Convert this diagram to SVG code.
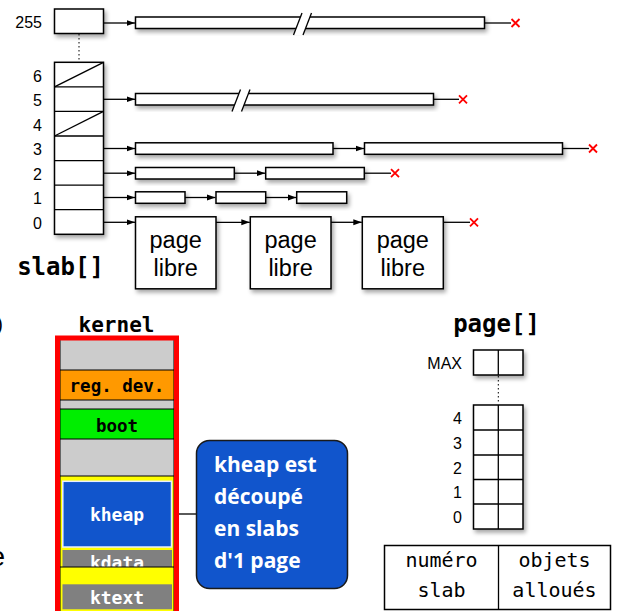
<svg xmlns="http://www.w3.org/2000/svg" width="617" height="611" viewBox="0 0 617 611">
<style>
.lbl{font-family:"Liberation Sans",Arial,sans-serif;font-size:16px;fill:#000;text-anchor:end}
.box{fill:#fff;stroke:#000;stroke-width:1.5}
.bar{fill:#fff;stroke:#000;stroke-width:1.5}
.ln{stroke:#000;stroke-width:1.3;fill:none}
.ar{stroke:#000;stroke-width:1.3;fill:none;marker-end:url(#ah)}
.rx{stroke:#ff0000;stroke-width:1.8;fill:none}
.pg{font-family:"Liberation Sans",Arial,sans-serif;font-size:23.5px;fill:#000;text-anchor:middle}
.mono{font-family:"DejaVu Sans Mono","Liberation Mono",monospace;text-anchor:middle}
.mb{font-family:"DejaVu Sans Mono","Liberation Mono",monospace;font-weight:bold;text-anchor:middle}
.sec{stroke:#000;stroke-width:1}
.call{font-family:"Open Sans","Noto Sans",sans-serif;font-weight:bold;font-size:21px;fill:#fff}
</style>
<defs>
<marker id="ah" markerWidth="9" markerHeight="7" refX="8.5" refY="3.5" orient="auto" markerUnits="userSpaceOnUse">
<path d="M0,0.5 L8.5,3.5 L0,6.5 z" fill="#000"/>
</marker>
<filter id="sh" x="-10%" y="-40%" width="125%" height="200%">
<feDropShadow dx="2" dy="3" stdDeviation="2" flood-color="#000" flood-opacity="0.35"/>
</filter>
</defs>

<!-- left edge fragments -->
<text x="3" y="331" class="lbl" style="font-size:20px">)</text>
<text x="5" y="566" class="lbl" style="font-size:28px">e</text>

<!-- slab[] array -->
<g id="slab-array">
<rect x="54.5" y="9" width="49" height="24.5" class="box" filter="url(#sh)"/>
<line x1="79" y1="34" x2="79" y2="61" stroke="#000" stroke-width="1" stroke-dasharray="1.5 2.5"/>
<rect x="54.5" y="62.3" width="49" height="172" class="box" filter="url(#sh)"/>
<g class="ln">
<line x1="54.5" y1="86.9" x2="103.5" y2="86.9"/>
<line x1="54.5" y1="111.4" x2="103.5" y2="111.4"/>
<line x1="54.5" y1="136" x2="103.5" y2="136"/>
<line x1="54.5" y1="160.6" x2="103.5" y2="160.6"/>
<line x1="54.5" y1="185.2" x2="103.5" y2="185.2"/>
<line x1="54.5" y1="209.7" x2="103.5" y2="209.7"/>
<line x1="54.5" y1="86.9" x2="103.5" y2="62.3"/>
<line x1="54.5" y1="136" x2="103.5" y2="111.4"/>
</g>
<text x="42" y="28" class="lbl">255</text>
<text x="42" y="81.5" class="lbl">6</text>
<text x="42" y="106" class="lbl">5</text>
<text x="42" y="130.5" class="lbl">4</text>
<text x="42" y="155" class="lbl">3</text>
<text x="42" y="179.5" class="lbl">2</text>
<text x="42" y="204" class="lbl">1</text>
<text x="42" y="228.5" class="lbl">0</text>
<text x="60.5" y="275" class="mb" style="font-size:24px">slab[]</text>
</g>

<!-- bars -->
<g id="row255">
<rect x="135.5" y="17" width="349" height="11.5" class="bar" filter="url(#sh)"/>
<polygon points="293.5,35 302,13 311.5,13 303,35" fill="#fff"/>
<line x1="293.5" y1="35" x2="302" y2="13" class="ln"/>
<line x1="303" y1="35" x2="311.5" y2="13" class="ln"/>
</g>
<g id="row5">
<rect x="135.5" y="93.5" width="298" height="11.5" class="bar" filter="url(#sh)"/>
<polygon points="232,111.5 240.5,89.5 250,89.5 241.5,111.5" fill="#fff"/>
<line x1="232" y1="111.5" x2="240.5" y2="89.5" class="ln"/>
<line x1="241.5" y1="111.5" x2="250" y2="89.5" class="ln"/>
</g>
<g id="row3">
<rect x="135.5" y="142.8" width="197.5" height="11.5" class="bar" filter="url(#sh)"/>
<rect x="364.5" y="142.8" width="198" height="11.5" class="bar" filter="url(#sh)"/>
</g>
<g id="row2">
<rect x="135.5" y="167.5" width="98.8" height="11.5" class="bar" filter="url(#sh)"/>
<rect x="265.7" y="167.5" width="98.6" height="11.5" class="bar" filter="url(#sh)"/>
</g>
<g id="row1">
<rect x="135.5" y="191.8" width="49.5" height="11.5" class="bar" filter="url(#sh)"/>
<rect x="216" y="191.8" width="49.7" height="11.5" class="bar" filter="url(#sh)"/>
<rect x="296.7" y="191.8" width="50" height="11.5" class="bar" filter="url(#sh)"/>
</g>
<g id="page-libre-1">
<rect x="135.5" y="216.8" width="80.5" height="72" class="box" filter="url(#sh)"/>
<text x="175.7" y="248.3" class="pg">page</text>
<text x="175.7" y="275.7" class="pg">libre</text>
</g>
<g id="page-libre-2">
<rect x="250.3" y="216.8" width="80.7" height="72" class="box" filter="url(#sh)"/>
<text x="290.6" y="248.3" class="pg">page</text>
<text x="290.6" y="275.7" class="pg">libre</text>
</g>
<g id="page-libre-3">
<rect x="362.3" y="216.8" width="81" height="72" class="box" filter="url(#sh)"/>
<text x="402.8" y="248.3" class="pg">page</text>
<text x="402.8" y="275.7" class="pg">libre</text>
</g>

<!-- connectors -->
<g id="connectors">
<line x1="103.5" y1="23" x2="135" y2="23" class="ar"/>
<line x1="484.5" y1="23" x2="511" y2="23" class="ln"/>
<line x1="103.5" y1="99.3" x2="135" y2="99.3" class="ar"/>
<line x1="433.5" y1="99.3" x2="459" y2="99.3" class="ln"/>
<line x1="103.5" y1="148.5" x2="135" y2="148.5" class="ar"/>
<line x1="333" y1="148.5" x2="364" y2="148.5" class="ar"/>
<line x1="562.5" y1="148.5" x2="589" y2="148.5" class="ln"/>
<line x1="103.5" y1="173.2" x2="135" y2="173.2" class="ar"/>
<line x1="234.3" y1="173.2" x2="265.2" y2="173.2" class="ar"/>
<line x1="364.3" y1="173.2" x2="391" y2="173.2" class="ln"/>
<line x1="103.5" y1="197.5" x2="135" y2="197.5" class="ar"/>
<line x1="185" y1="197.5" x2="215.5" y2="197.5" class="ar"/>
<line x1="265.7" y1="197.5" x2="296.2" y2="197.5" class="ar"/>
<line x1="103.5" y1="222.3" x2="135" y2="222.3" class="ar"/>
<line x1="216" y1="222.3" x2="249.8" y2="222.3" class="ar"/>
<line x1="331" y1="222.3" x2="361.8" y2="222.3" class="ar"/>
<line x1="443.3" y1="222.3" x2="470" y2="222.3" class="ln"/>
<line x1="172" y1="514" x2="196.5" y2="514" class="ln" stroke-width="1"/>
<g class="rx">
<path d="M511.5,19 L519.5,27 M511.5,27 L519.5,19"/>
<path d="M459,95.3 L467,103.3 M459,103.3 L467,95.3"/>
<path d="M589,144.5 L597,152.5 M589,152.5 L597,144.5"/>
<path d="M391,169.2 L399,177.2 M391,177.2 L399,169.2"/>
<path d="M470,218.3 L478,226.3 M470,226.3 L478,218.3"/>
</g>
</g>

<!-- kernel column -->
<g id="kernel">
<text x="116.5" y="332" class="mb" style="font-size:21px">kernel</text>
<rect x="60" y="340" width="114" height="280" fill="#cccccc"/>
<rect x="60" y="370" width="114" height="30" fill="#ff9900"/>
<rect x="60" y="409" width="114" height="30" fill="#00ee00"/>
<rect x="60" y="476" width="114" height="140" fill="#ffff00"/>
<g class="sec">
<line x1="60" y1="370" x2="174" y2="370"/>
<line x1="60" y1="400" x2="174" y2="400"/>
<line x1="60" y1="409" x2="174" y2="409"/>
<line x1="60" y1="439" x2="174" y2="439"/>
<line x1="60" y1="476" x2="174" y2="476"/>
</g>
<rect x="62.8" y="481.3" width="108.7" height="65.7" fill="#1155cc" stroke="#e8eeff" stroke-width="1.5"/>
<rect x="62.5" y="550" width="109.5" height="17" fill="#808080"/>
<text x="117" y="568.5" class="mb" style="font-size:18px;fill:#fff">kdata</text>
<rect x="62.5" y="567" width="109.5" height="16.5" fill="#ffff00"/>
<line x1="60" y1="567" x2="174" y2="567" class="sec"/>
<rect x="62.5" y="584.3" width="109.5" height="25" fill="#808080"/>
<text x="117" y="604" class="mb" style="font-size:18px;fill:#fff">ktext</text>
<text x="117" y="391.5" class="mb" style="font-size:17.5px;fill:#000">reg. dev.</text>
<text x="117" y="431.5" class="mb" style="font-size:17.5px;fill:#000">boot</text>
<text x="117" y="521" class="mb" style="font-size:18px;fill:#fff">kheap</text>
<line x1="60" y1="340" x2="60" y2="620" class="sec"/>
<line x1="174" y1="340" x2="174" y2="620" class="sec"/>
<rect x="57.5" y="338" width="119" height="290" fill="none" stroke="#ff0000" stroke-width="5"/>
</g>

<!-- callout -->
<g id="callout">
<rect x="196.5" y="440.5" width="151" height="148" rx="13" fill="#1155cc" stroke="#1a1a1a" stroke-width="1.5"/>
<text x="214" y="472" class="call">kheap est</text>
<text x="214" y="504" class="call">découpé</text>
<text x="214" y="536" class="call">en slabs</text>
<text x="214" y="568" class="call">d'1 page</text>
</g>

<!-- page[] array -->
<g id="page-array">
<text x="496.5" y="332" class="mb" style="font-size:24px">page[]</text>
<rect x="473.5" y="350" width="49.5" height="25" class="box" filter="url(#sh)"/>
<line x1="498.3" y1="350" x2="498.3" y2="375" class="ln" stroke-width="1.5"/>
<line x1="498.3" y1="376" x2="498.3" y2="404" stroke="#000" stroke-width="1" stroke-dasharray="1.5 2.5"/>
<rect x="473.5" y="405" width="49.5" height="124" class="box" filter="url(#sh)"/>
<g class="ln" stroke-width="1.5">
<line x1="498.3" y1="405" x2="498.3" y2="529"/>
<line x1="473.5" y1="430" x2="523" y2="430"/>
<line x1="473.5" y1="455" x2="523" y2="455"/>
<line x1="473.5" y1="479.5" x2="523" y2="479.5"/>
<line x1="473.5" y1="504" x2="523" y2="504"/>
</g>
<text x="462" y="369.3" class="lbl">MAX</text>
<text x="462" y="424" class="lbl">4</text>
<text x="462" y="448.8" class="lbl">3</text>
<text x="462" y="473.5" class="lbl">2</text>
<text x="462" y="498" class="lbl">1</text>
<text x="462" y="522.5" class="lbl">0</text>
</g>

<!-- legend table -->
<g id="legend">
<rect x="384.5" y="545.5" width="226" height="64" class="box"/>
<line x1="498.5" y1="545.5" x2="498.5" y2="609.5" class="ln" stroke-width="1.5"/>
<text x="441.5" y="566.7" class="mono" style="font-size:20px">numéro</text>
<text x="441.5" y="596.7" class="mono" style="font-size:20px">slab</text>
<text x="554.5" y="566.7" class="mono" style="font-size:20px">objets</text>
<text x="554.5" y="596.7" class="mono" style="font-size:20px">alloués</text>
</g>
</svg>
